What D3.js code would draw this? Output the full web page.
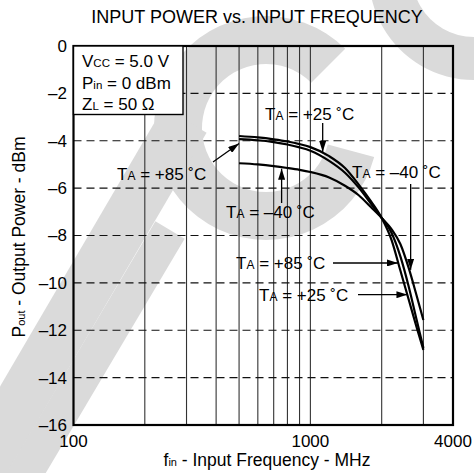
<!DOCTYPE html>
<html><head><meta charset="utf-8">
<script src="https://cdn.jsdelivr.net/npm/d3@7"></script>
<style>body{margin:0;background:#fff}svg{display:block}</style>
</head><body>
<svg id="c" width="474" height="473"></svg>
<script>
// ---- data ----
const freqs   = [500,600,700,800,900,1000,1200,1400,1600,1800,2000,2200,2400,2600,2800,3000];
const pout85  = [-3.80,-3.86,-3.94,-4.03,-4.14,-4.27,-4.65,-5.15,-5.85,-6.55,-7.26,-8.18,-9.49,-10.70,-11.83,-12.83];
const pout25  = [-3.93,-3.98,-4.06,-4.16,-4.28,-4.42,-4.85,-5.35,-5.98,-6.65,-7.26,-7.88,-8.89,-10.15,-11.50,-12.75];
const poutM40 = [-4.95,-5.00,-5.07,-5.15,-5.23,-5.32,-5.55,-5.90,-6.30,-6.80,-7.26,-7.73,-8.37,-9.37,-10.49,-11.57];
const xGrid   = [200,300,400,500,600,700,800,900,1000,2000,3000];
const xTickLabels = [100,1000,4000];
const yTicks  = [0,-2,-4,-6,-8,-10,-12,-14,-16];
const infoLines = [["V","CC"," = 5.0 V"],["P","in"," = 0 dBm"],["Z","L"," = 50 \u03A9"]];

const FONT = "'Liberation Sans', Arial, Helvetica, sans-serif";
const svg = d3.select("#c");
const x = d3.scaleLog().domain([100,4000]).range([73.5,453]);
const y = d3.scaleLinear().domain([-16,0]).range([425,46]);
const deg = Math.PI/180;

// ---- watermark (background decoration) ----
const WM = "#dadada";
const wm = svg.append("g").attr("fill",WM).attr("stroke","none");
wm.append("path")
  .attr("transform","translate(266,128)")
  .attr("d", d3.arc()({innerRadius:64, outerRadius:112, startAngle:105*deg, endAngle:405*deg}));
wm.append("path")
  .attr("transform","translate(474,-25)")
  .attr("d", d3.arc()({innerRadius:62, outerRadius:105, startAngle:180*deg, endAngle:300*deg}));
wm.append("line").attr("x1",-20).attr("y1",470).attr("x2",185).attr("y2",120)
  .attr("stroke",WM).attr("stroke-width",50);
wm.append("line").attr("x1",10).attr("y1",500).attr("x2",170).attr("y2",230)
  .attr("stroke",WM).attr("stroke-width",34);

// ---- grid ----
const g = svg.append("g");
g.selectAll("line.vg").data(xGrid).join("line")
  .attr("x1",d=>x(d)).attr("x2",d=>x(d)).attr("y1",y(0)).attr("y2",y(-16))
  .attr("stroke","#333").attr("stroke-width",1.1);
g.selectAll("line.hg").data(yTicks.filter(v=>v!==0 && v!==-16)).join("line")
  .attr("x1",x(100)).attr("x2",x(4000)).attr("y1",d=>y(d)).attr("y2",d=>y(d))
  .attr("stroke","#111").attr("stroke-width",1.1).attr("stroke-dasharray","8,5");

// ---- curves ----
const line = d3.line().x(d=>x(d[0])).y(d=>y(d[1])).curve(d3.curveMonotoneX);
[pout85,pout25,poutM40].forEach(s=>{
  g.append("path").datum(freqs.map((f,i)=>[f,s[i]])).attr("d",line)
   .attr("fill","none").attr("stroke","#000").attr("stroke-width",2.2);
});

// ---- frame ----
svg.append("rect").attr("x",x(100)).attr("y",y(0)).attr("width",x(4000)-x(100)).attr("height",y(-16)-y(0))
  .attr("fill","none").attr("stroke","#000").attr("stroke-width",2.2);

// ---- info box ----
svg.append("rect").attr("x",x(100)).attr("y",y(0)).attr("width",109.5).attr("height",68.5)
  .attr("fill","#fff").attr("stroke","#000").attr("stroke-width",1.4);
infoLines.forEach((l,i)=>{
  const t = svg.append("text").attr("x",82).attr("y",67+i*21.6)
    .attr("font-family",FONT).attr("font-size",17).attr("fill","#000");
  t.append("tspan").text(l[0]);
  t.append("tspan").attr("font-size",11.5).text(l[1]);
  t.append("tspan").text(l[2]);
});

// ---- axes labels ----
svg.selectAll("text.yt").data(yTicks).join("text")
  .attr("x",67).attr("y",d=>y(d)).attr("dy","0.35em").attr("text-anchor","end")
  .attr("font-family",FONT).attr("font-size",17).text(d=>d===0?"0":"\u2013"+Math.abs(d));
svg.selectAll("text.xt").data(xTickLabels).join("text")
  .attr("x",d=>x(d)).attr("y",447).attr("text-anchor","middle")
  .attr("font-family",FONT).attr("font-size",17).text(d=>d);

svg.append("text").attr("x",257).attr("y",23).attr("text-anchor","middle")
  .attr("font-family",FONT).attr("font-size",18).text("INPUT POWER vs. INPUT FREQUENCY");

const xt = svg.append("text").attr("x",267).attr("y",466).attr("text-anchor","middle")
  .attr("font-family",FONT).attr("font-size",17.5);
xt.append("tspan").text("f"); xt.append("tspan").attr("font-size",11).text("in");
xt.append("tspan").text(" - Input Frequency - MHz");

const yt = svg.append("text").attr("transform","translate(25,237) rotate(-90)").attr("text-anchor","middle")
  .attr("font-family",FONT).attr("font-size",17.5);
yt.append("tspan").text("P"); yt.append("tspan").attr("font-size",11).text("out");
yt.append("tspan").text(" - Output Power - dBm");

// ---- annotations ----
svg.append("defs").append("marker").attr("id","ah").attr("markerUnits","userSpaceOnUse")
  .attr("markerWidth",11).attr("markerHeight",7).attr("refX",11).attr("refY",3.5).attr("orient","auto")
  .append("path").attr("d","M0,0L11,3.5L0,7Z").attr("fill","#000");

const annos = [
  {t:"+25 \u02DAC", tx:265, ty:120, tipF:1127, tipV:-4.47, mode:"v", tail:123},
  {t:"+85 \u02DAC", tx:117, ty:180, tipF:500,  tipV:-4.12, mode:"p", tailX:213, tailY:162},
  {t:"\u201340 \u02DAC", tx:226, ty:218, tipF:756, tipV:-5.18, mode:"v", tail:203},
  {t:"\u201340 \u02DAC", tx:352, ty:178, tipF:2650, tipV:-9.45, mode:"v", tail:184},
  {t:"+85 \u02DAC", tx:236, ty:269, tipF:2342, tipV:-9.16, mode:"h", tail:333},
  {t:"+25 \u02DAC", tx:259, ty:301, tipF:2568, tipV:-10.5, mode:"h", tail:358}
];
annos.forEach(a=>{
  const t = svg.append("text").attr("x",a.tx).attr("y",a.ty)
    .attr("font-family",FONT).attr("font-size",17).attr("fill","#000");
  t.append("tspan").text("T"); t.append("tspan").attr("font-size",12).text("A");
  t.append("tspan").text(" = "+a.t);
  const px = x(a.tipF), py = y(a.tipV);
  let x1,y1;
  if(a.mode==="v"){x1=px;y1=a.tail;} else if(a.mode==="h"){x1=a.tail;y1=py;} else {x1=a.tailX;y1=a.tailY;}
  svg.append("line").attr("x1",x1).attr("y1",y1).attr("x2",px).attr("y2",py)
    .attr("stroke","#000").attr("stroke-width",1.3).attr("marker-end","url(#ah)");
});
</script>
</body></html>
